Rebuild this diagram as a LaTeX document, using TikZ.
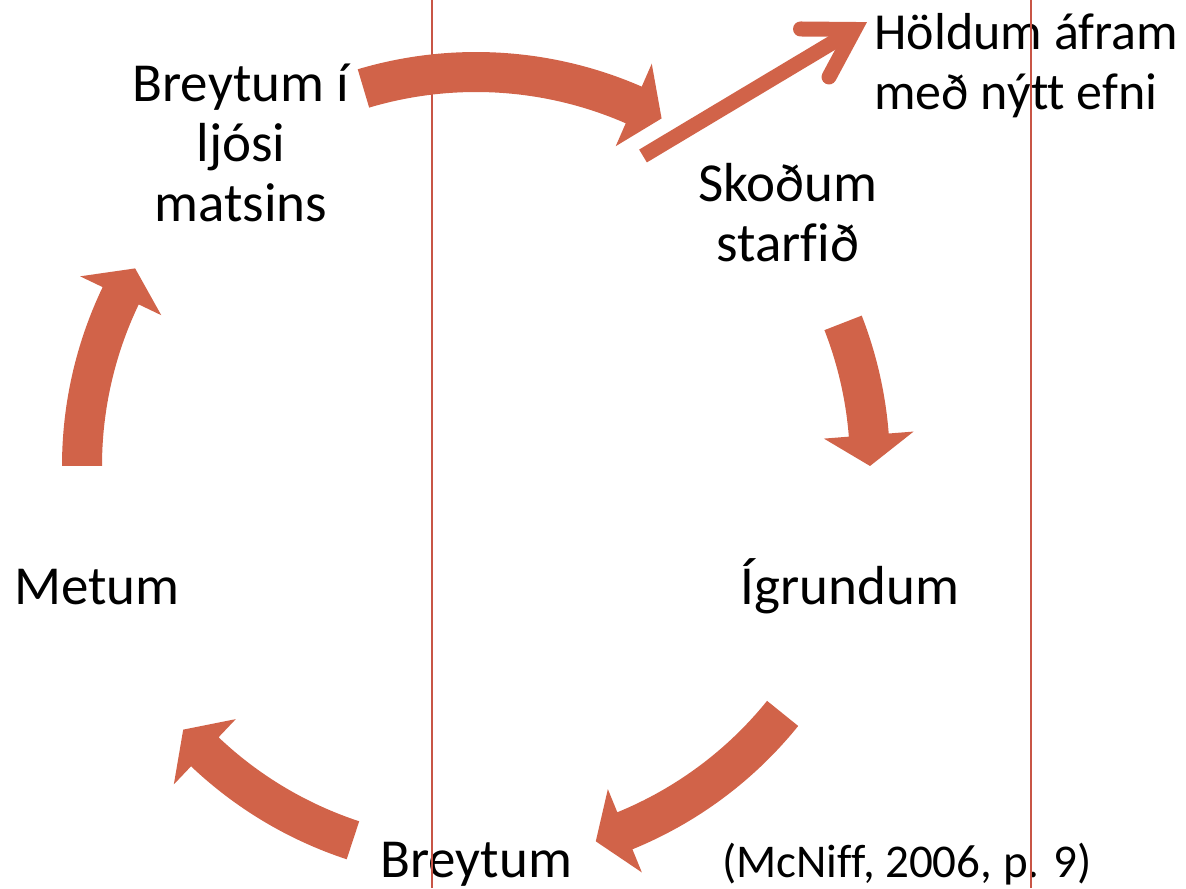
\documentclass[tikz,border=0pt]{standalone}
\usepackage{fontspec}
\setmainfont{Carlito}[Ligatures=CommonOff]
\usetikzlibrary{calc}
\definecolor{orlitur}{RGB}{209,99,73}
\definecolor{linulitur}{RGB}{200,85,70}
\tikzset{
  tekti/.style={font=\fontsize{27.5}{30}\selectfont, align=center, inner sep=0pt},
  heimildtekti/.style={font=\fontsize{23.5}{28}\selectfont, inner sep=0pt},
}
% bogadregin blokkor, rettsaelis fra horni #1 ad horni #2
\newcommand{\bogaor}[2]{%
  \pgfmathsetmacro{\hofud}{#2+4.5}
  \fill[orlitur] ($(midja)+(#1:414)$) arc[start angle=#1, end angle=\hofud, radius=414]
    -- ($(midja)+(\hofud:439)$) -- ($(midja)+(#2:394)$) -- ($(midja)+(\hofud:349)$)
    -- ($(midja)+(\hofud:374)$) arc[start angle=\hofud, end angle=#1, radius=374] -- cycle;
}
\begin{document}
\begin{tikzpicture}[x=0.5pt, y=0.5pt, line join=round]
  \useasboundingbox (0,0) rectangle (1186,888);
  \coordinate (midja) at (476,422);
  % textar
  \node[tekti, anchor=base] (breytumljosi) at (241,666) {Breytum í\\ljósi\\matsins};
  \node[tekti, anchor=base] (skodum) at (788,626) {Skoðum\\starfið};
  \node[tekti, anchor=base] (igrundum) at (850,283) {Ígrundum};
  \node[tekti, anchor=base] (breytum) at (476,11) {Breytum};
  \node[tekti, anchor=base] (metum) at (97,283) {Metum};
  \node[tekti, font=\fontsize{26}{30}\selectfont, align=left, anchor=base west] (holdum) at (874,778) {Höldum áfram\\með nýtt efni};
  \node[heimildtekti, anchor=base] (heimild) at (907,11) {(McNiff, 2006, p. 9)};
  % lodrettar linur
  \draw[linulitur, line width=1pt] (432,0) -- (432,888);
  \draw[linulitur, line width=1pt] (1031,0) -- (1031,888);
  % orvar hringsins
  \bogaor{106.6}{61.9}
  \bogaor{21.3}{0}
  \bogaor{-38.9}{-72.3}
  \bogaor{-108.2}{-138}
  \bogaor{180}{149.9}
  % or ut ur hringnum
  \coordinate (halar) at (643,732);
  \coordinate (oddur) at (854.5,858.5);
  \coordinate (agnuppi) at (800.5,859);
  \coordinate (agnnidri) at (829,811);
  \draw[orlitur, line width=7.5pt] (halar) -- (oddur);
  \draw[orlitur, line width=7.5pt, line cap=round, line join=miter] (agnuppi) -- (oddur) -- (agnnidri);
\end{tikzpicture}
\end{document}
